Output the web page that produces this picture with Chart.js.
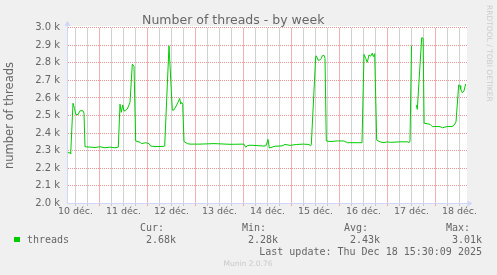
<!DOCTYPE html>
<html>
<head>
<meta charset="utf-8">
<script src="https://cdn.jsdelivr.net/npm/chart.js@4.4.0/dist/chart.umd.min.js"></script>
<style>
  body { margin: 0; background: #f0f0f0; }
  #wrap { position: relative; width: 497px; height: 275px; overflow: hidden; }
  #plotBg { position: absolute; left: 67px; top: 26px; width: 400px; height: 177px; background: #ffffff; }
  #myChart { position: absolute; left: 0; top: 0; }
  .txt { position: absolute; font-family: "DejaVu Sans Mono", monospace; font-size: 10px; line-height: 12px; color: #666; white-space: pre; }
  #swatch { position: absolute; left: 14px; top: 236.5px; width: 5.5px; height: 5.5px; background: #00cc00; }
  #munin { position: absolute; left: 0; width: 496px; top: 259px; text-align: center; font-family: "DejaVu Sans", sans-serif; font-size: 7.5px; line-height: 10px; color: #c8c8c8; }
  #rrd { position: absolute; left: 484.5px; top: 5px; writing-mode: vertical-rl; font-family: "DejaVu Sans", sans-serif; font-size: 7.5px; line-height: 8px; color: #cccccc; white-space: pre; }
</style>
</head>
<body>
<div id="wrap">
  <div id="plotBg"></div>
  <canvas id="myChart" width="497" height="275"></canvas>
  <div id="legend"></div>
  <div id="rrd">RRDTOOL / TOBI OETIKER</div>
  <div id="munin">Munin 2.0.76</div>
</div>
<script>
// hours since 10 Dec 00:00
const hours = [7.6, 9.25, 9.6, 10.75, 11.5, 12.1, 13.25, 14.25, 15.75, 16.25, 16.75, 19.25, 21.75, 24.25, 26.75, 29.25, 31.75, 33.4,
  34.25, 34.9, 35.6, 36.25, 37.1, 37.9, 38.75, 39.25, 40.4, 41.25, 42.1, 44.25, 44.9, 47.1, 48.75, 49.6, 51.75, 55.75, 56.6,
  58.75, 60.4, 61.25, 62.6, 63.25, 64.1, 64.6, 65.1, 65.6, 66.25, 67.9, 69.25, 74.25, 81.25, 89.25, 96.25, 97.1, 97.9, 99.25,
  106.25, 107.25, 108.25, 108.9, 111.75, 115.25, 116.75, 119.25, 122.6, 125.9, 128.75, 129.6, 129.9,
  132.1, 132.4, 133.25, 134.1, 134.9, 135.4, 136.25, 136.75, 137.4, 139.25, 142.9, 146.25, 147.9, 154.25, 155.25,
  156.25, 157.1, 157.9, 158.75, 159.6, 160.4, 160.9, 161.6, 162.6, 164.25, 166.25, 167.9, 169.6, 174.25, 178.25, 178.75, 179.25,
  180, 181, 182.4, 182.9, 185.1, 185.8, 186.3, 189.25, 190.4, 194.25, 195.4, 197.75, 200.25, 201.25, 202.25,
  203.6, 204.25, 204.6, 205.4, 206.25, 207.1];
const threads = [2290, 2287, 2283, 2570, 2540, 2507, 2505, 2527, 2527, 2512, 2322, 2320, 2318, 2322, 2316, 2320, 2316, 2320,
  2564, 2518, 2560, 2525, 2530, 2537, 2560, 2575, 2792, 2780, 2355, 2348, 2340, 2345, 2340, 2326, 2323, 2324, 2326,
  2897, 2531, 2532, 2560, 2575, 2597, 2565, 2575, 2564, 2352, 2340, 2337, 2337, 2340, 2336, 2337, 2319, 2328, 2331,
  2326, 2328, 2364, 2315, 2325, 2327, 2335, 2330, 2335, 2337, 2335, 2327, 2335,
  2835, 2840, 2815, 2815, 2825, 2840, 2843, 2825, 2355, 2352, 2355, 2355, 2345, 2345, 2345,
  2848, 2825, 2803, 2845, 2838, 2855, 2835, 2852, 2360, 2350, 2345, 2350, 2347, 2350, 2350, 2345, 2355,
  2897, null, 2559, 2535, 2943, 2940, 2456, 2450, 2437, 2437, 2430, 2437, 2437, 2445, 2463,
  2674, 2670, 2650, 2630, 2640, 2680];

const dayLabels = ['10 déc.', '11 déc.', '12 déc.', '13 déc.', '14 déc.', '15 déc.', '16 déc.', '17 déc.', '18 déc.'];
const statNames = ['Cur:', 'Min:', 'Avg:', 'Max:'];
const statValues = ['2.68k', '2.28k', '2.43k', '3.01k'];
const seriesName = 'threads';
const lastUpdate = 'Last update: Thu Dec 18 15:30:09 2025';

// grid every 6 hours, red at midnight
var gridHours = [];
for (var g = 12; g <= 204; g += 6) gridHours.push(g);

const majorGrid = 'rgba(222,79,79,0.6)';
const majorLine = 'rgba(222,79,79,0.45)';
const minorLine = 'rgba(143,143,143,0.4)';
const axisColor = '#cfd6f8';
const fontColor = '#666666';

// legend below the chart
var legend = document.getElementById('legend');
function addText(str, css) {
  var d = document.createElement('div');
  d.className = 'txt';
  d.textContent = str;
  for (var k in css) d.style[k] = css[k];
  legend.appendChild(d);
}
var sw = document.createElement('div');
sw.id = 'swatch';
legend.appendChild(sw);
addText(seriesName, { left: '27px', top: '234px' });
var valueRight = [176, 278, 380, 482];
for (var n = 0; n < statNames.length; n++) {
  addText(statNames[n], { right: (497 - valueRight[n] + 12) + 'px', top: '222px' });
  addText(statValues[n], { right: (497 - valueRight[n]) + 'px', top: '234px' });
}
addText(lastUpdate, { right: '15px', top: '246px' });

// rrdtool style grid, placed with the chart's own scales
const rrdGrid = {
  id: 'rrdGrid',
  beforeDatasetsDraw(chart) {
    const a = chart.chartArea, c = chart.ctx;
    const xs = chart.scales.x, ys = chart.scales.y;
    const top = Math.round(a.top), bottom = Math.round(a.bottom);
    const left = Math.round(a.left), right = Math.round(a.right);
    c.save();
    c.fillStyle = majorGrid;
    ys.ticks.forEach(t => {
      if (t.value <= ys.min) return;
      const y = Math.round(ys.getPixelForValue(t.value) - 0.5);
      for (let x = left + 1; x < right; x += 2) c.fillRect(x, y, 1, 1);
    });
    c.lineWidth = 1;
    gridHours.forEach(v => {
      let px = xs.getPixelForValue(v);
      if (!isFinite(px)) px = a.left + (v - xs.min) / (xs.max - xs.min) * (a.right - a.left);
      px = Math.round(px - 0.5) + 0.5;
      c.strokeStyle = (v % 24 === 0) ? majorLine : minorLine;
      c.beginPath();
      c.moveTo(px, top);
      c.lineTo(px, bottom + 3);
      c.stroke();
    });
    c.restore();
  },
  afterDraw(chart) {
    // axis lines with arrows
    const a = chart.chartArea, c = chart.ctx;
    const x0 = Math.round(a.left) + 0.5, y0 = Math.round(a.bottom) + 0.5;
    c.save();
    c.strokeStyle = axisColor;
    c.fillStyle = axisColor;
    c.lineWidth = 1;
    c.beginPath();
    c.moveTo(x0, y0); c.lineTo(x0, a.top - 3);
    c.moveTo(x0, y0); c.lineTo(a.right + 2, y0);
    c.stroke();
    c.beginPath();
    c.moveTo(x0 - 3, a.top - 2); c.lineTo(x0, a.top - 7); c.lineTo(x0 + 3, a.top - 2);
    c.fill();
    c.beginPath();
    c.moveTo(a.right + 1, y0 - 3); c.lineTo(a.right + 6, y0); c.lineTo(a.right + 1, y0 + 3);
    c.fill();
    c.restore();
  }
};

const ctx = document.getElementById('myChart').getContext('2d');
const myChart = new Chart(ctx, {
  type: 'line',
  data: {
    datasets: [{
      label: seriesName,
      data: hours.map((hr, i) => ({ x: hr, y: threads[i] })),
      borderColor: '#00cc00',
      backgroundColor: '#00cc00',
      borderWidth: 1,
      pointRadius: 0,
      tension: 0,
      spanGaps: false
    }]
  },
  options: {
    responsive: false,
    animation: false,
    layout: { padding: { left: 0, right: 30.5, top: 0, bottom: 51.7 } },
    plugins: {
      legend: { display: false },
      tooltip: { enabled: false },
      title: {
        display: true,
        text: 'Number of threads - by week',
        color: fontColor,
        font: { family: 'DejaVu Sans', size: 12.5, weight: 'normal' },
        padding: { top: 13, bottom: -0.3 }
      }
    },
    scales: {
      x: {
        type: 'linear',
        min: 7.5,
        max: 207.5,
        afterFit: function (s) { s.height = 20; },
        afterBuildTicks: function (s) { s.ticks = gridHours.map(v => ({ value: v })); },
        grid: { drawOnChartArea: false, tickLength: 2, tickColor: 'rgba(0,0,0,0)' },
        border: { display: false },
        ticks: {
          autoSkip: false,
          maxRotation: 0,
          padding: 1,
          color: fontColor,
          font: { family: 'DejaVu Sans', size: 9.5 },
          callback: v => (v % 24 === 12) ? dayLabels[(v - 12) / 24] : ''
        }
      },
      y: {
        min: 2000,
        max: 3000,
        afterFit: function (s) { s.width = 66.5; },
        grid: { drawOnChartArea: false, drawTicks: false },
        border: { display: false },
        ticks: {
          stepSize: 100,
          padding: 6.5,
          color: fontColor,
          font: { family: 'DejaVu Sans', size: 10 },
          callback: v => (v / 1000).toFixed(1) + ' k'
        },
        title: {
          display: true,
          text: 'number of threads',
          color: fontColor,
          font: { family: 'DejaVu Sans', size: 11.5 },
          padding: { top: 3, bottom: 0 }
        }
      }
    }
  },
  plugins: [rrdGrid]
});
</script>
</body>
</html>
